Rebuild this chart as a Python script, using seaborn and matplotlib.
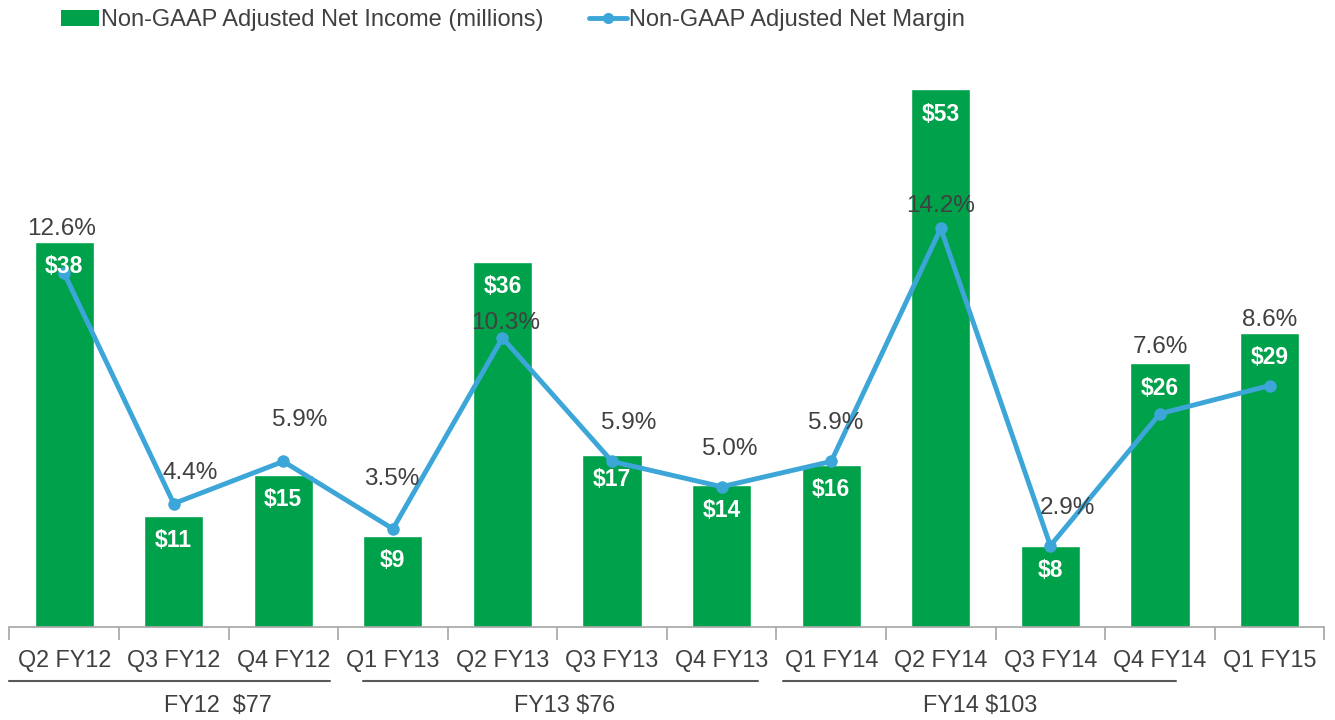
import numpy as np
import pandas as pd
import matplotlib
matplotlib.use("Agg")
import matplotlib.pyplot as plt
import matplotlib.transforms as mtransforms
from matplotlib.lines import Line2D
from matplotlib.patches import Patch
import seaborn as sns

# data
quarters = ["Q2 FY12", "Q3 FY12", "Q4 FY12", "Q1 FY13", "Q2 FY13", "Q3 FY13",
            "Q4 FY13", "Q1 FY14", "Q2 FY14", "Q3 FY14", "Q4 FY14", "Q1 FY15"]
net_income = [38, 11, 15, 9, 36, 17, 14, 16, 53, 8, 26, 29]
net_margin = [12.6, 4.4, 5.9, 3.5, 10.3, 5.9, 5.0, 5.9, 14.2, 2.9, 7.6, 8.6]
fy_groups = ["FY12  $77", "FY13 $76", "FY14 $103"]

# label nudges (points) for the margin labels, as placed in the original
pct_offsets = [(-2, 32), (12, 22), (12, 30), (-1, 36), (2, 11), (12, 28),
               (6, 27), (3, 28), (0, 16), (12, 27), (0, 48), (0, 47)]

GREEN = "#00A14B"
BLUE = "#3DA6D8"
GREY = "#404040"

sns.set_theme(style="white")
plt.rcParams["font.family"] = ["Liberation Sans", "DejaVu Sans"]

df = pd.DataFrame({"quarter": quarters, "income": net_income, "margin": net_margin})

fig = plt.figure(figsize=(13.35, 7.2), dpi=100)
ax = fig.add_axes([0.007, 0.129, 0.985, 0.775])

sns.barplot(data=df, x="quarter", y="income", color=GREEN, saturation=1,
            width=0.54, ax=ax, zorder=1)
ax.set_ylim(0, 55)
ax.set_xlim(-0.5, 11.5)

ax2 = ax.twinx()
sns.lineplot(x=np.arange(len(quarters)), y=df["margin"], color=BLUE, lw=3.5,
             marker="o", markersize=9, markeredgewidth=0, ax=ax2)
ax2.set_ylim(0, 19.87)
ax2.set_xlim(-0.5, 11.5)

# bar value labels (inside, white bold)
for i, v in enumerate(net_income):
    ax2.annotate(f"${v}", xy=(i, v * 19.87 / 55), xytext=(0, -18),
                 textcoords="offset points", ha="center", va="center",
                 color="white", fontsize=16.5, fontweight="bold", zorder=5)

# margin labels
for i, (m, off) in enumerate(zip(net_margin, pct_offsets)):
    ax2.annotate(f"{m}%", xy=(i, m), xytext=off, textcoords="offset points",
                 ha="center", va="center", color=GREY, fontsize=17.5, zorder=5)

for a in (ax, ax2):
    for s in ["top", "right", "left"]:
        a.spines[s].set_visible(False)
    a.set_yticks([])
    a.set_ylabel("")
ax2.spines["bottom"].set_visible(False)
ax.spines["bottom"].set_color("#A6A6A6")
ax.spines["bottom"].set_linewidth(1.2)

ax.set_xlabel("")
ax.set_xticks(range(len(quarters)))
ax.set_xticklabels(quarters, fontsize=16.8, color=GREY)
ax.tick_params(axis="x", which="major", length=0, pad=16)
ax.set_xticks(np.arange(-0.5, 12, 1), minor=True)
ax.tick_params(axis="x", which="minor", length=9, width=1.2, color="#A6A6A6",
               direction="out", bottom=True)

# fiscal year brackets under the quarter labels
trans = mtransforms.blended_transform_factory(ax.transData, ax.transAxes)
spans = [(-0.5, 2.43), (2.73, 6.33), (6.56, 10.15)]
centers = [1.4, 4.57, 8.36]
for (x0, x1), cx, lab in zip(spans, centers, fy_groups):
    ax.add_line(Line2D([x0, x1], [-0.097, -0.097], transform=trans,
                       color="#595959", lw=1.5, clip_on=False))
    ax.text(cx, -0.14, lab, transform=trans, ha="center", va="center",
            fontsize=16.8, color=GREY)

handles = [Patch(facecolor=GREEN, edgecolor="none"),
           Line2D([], [], color=BLUE, lw=3.5, marker="o", markersize=7)]
fig.legend(handles, ["Non-GAAP Adjusted Net Income (millions)",
                     "Non-GAAP Adjusted Net Margin"],
           loc="center left", bbox_to_anchor=(0.03, 0.972), ncol=2,
           frameon=False, fontsize=17, handlelength=1.6, handletextpad=0.1,
           columnspacing=1.9, labelcolor=GREY)

fig.savefig("out.png", dpi=100)
